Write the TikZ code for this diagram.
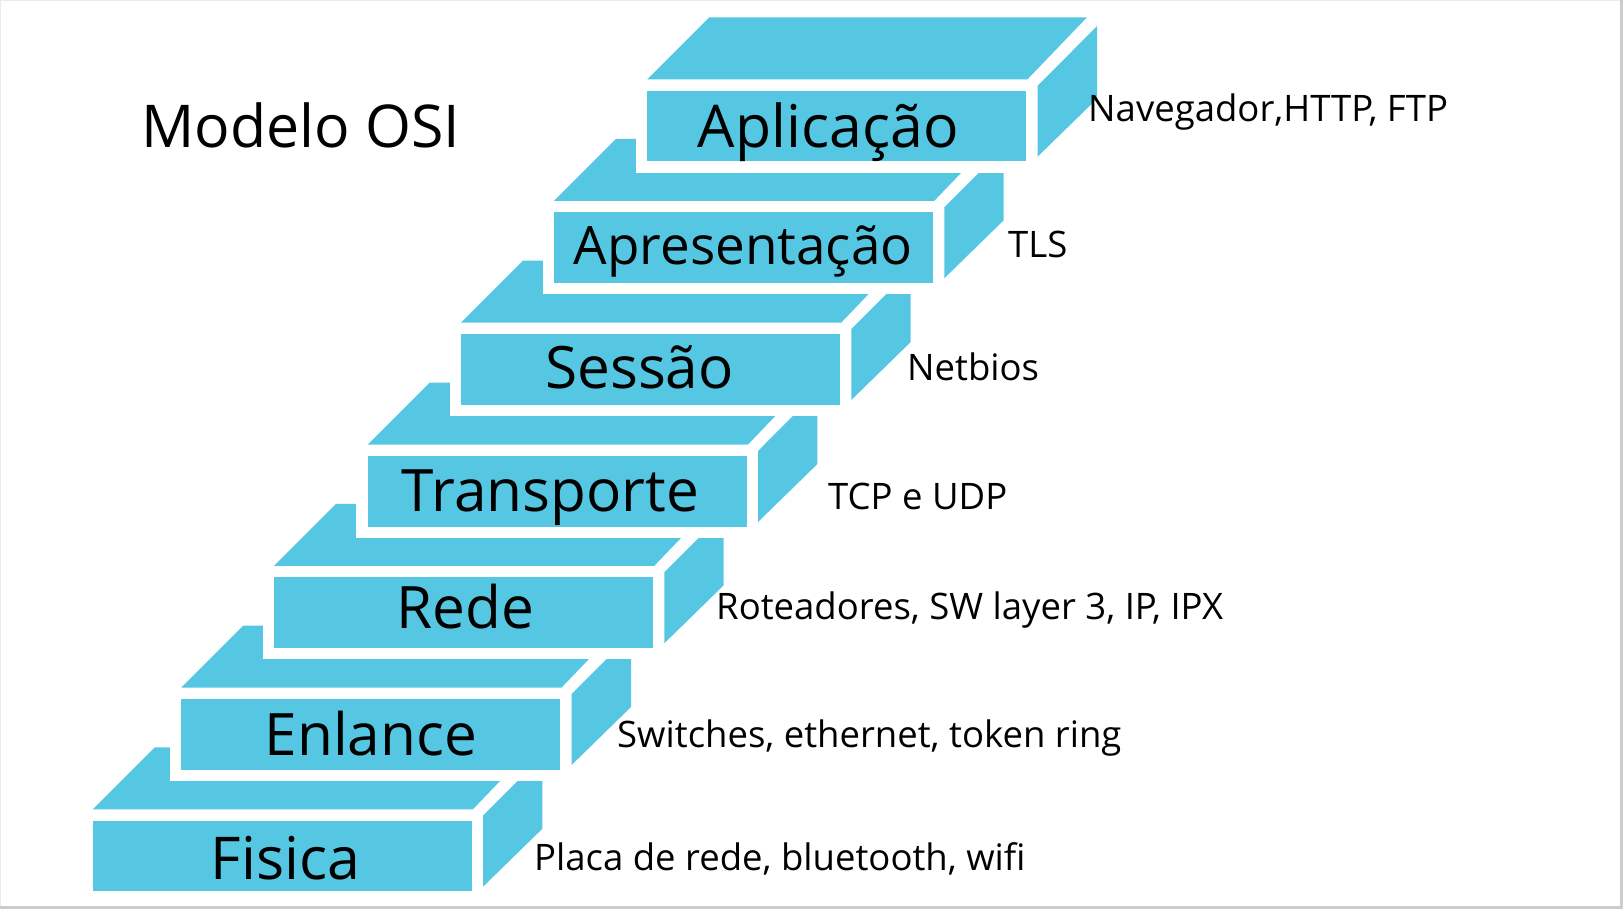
\documentclass[tikz,border=0pt]{standalone}
\usepackage{fontspec}
\setmainfont{Open Sans}
\definecolor{stepcyan}{RGB}{85,199,227}
\definecolor{framegray}{RGB}{204,204,204}
\definecolor{edgegray}{RGB}{235,235,235}

% One stair block: #1 = left of front face, #2 = top of front face (y grows downward)
\newcommand\osiblock[2]{%
  \pgfmathsetmacro\bL{#1}\pgfmathsetmacro\bT{#2}%
  \pgfmathsetmacro\bR{#1+379}\pgfmathsetmacro\bB{#2+70.7}%
  % white gap that separates the block from the one below it
  \fill[white] (\bL-11.4,\bT-11.4) rectangle (\bR+11.4,\bB+11.4);
  % front face
  \fill[stepcyan] (\bL,\bT) rectangle (\bR,\bB);
  % top face
  \fill[stepcyan] (\bL,\bT-11.4) -- (\bR+1.2,\bT-11.4) -- (\bR+60.7,\bT-73.4)
        -- (\bL+62,\bT-73.4) -- cycle;
  % side face
  \fill[stepcyan] (\bR+11.3,\bT-5) -- (\bR+70.7,\bT-64.5) -- (\bR+70.7,\bT+8)
        -- (\bR+11.3,\bT+66) -- cycle;
}

\tikzset{
  layername/.style={anchor=base, inner sep=0pt, text=black,
    font=\fontsize{58.5}{70}\selectfont},
  protocols/.style={anchor=base west, inner sep=0pt, text=black,
    font=\fontsize{36.5}{44}\selectfont},
}

\begin{document}
\begin{tikzpicture}[x=1pt,y=-1pt]
  \useasboundingbox (0,0) rectangle (1623,909);
  \fill[white] (0,0) rectangle (1623,909);
  % slide edges
  \draw[edgegray, line width=1] (0.5,906) -- (0.5,0.5) -- (1620,0.5);
  \fill[framegray] (1620,0) rectangle (1623,909);
  \fill[framegray] (0,906) rectangle (1623,909);

  % stairs, from the lowest step up
  \osiblock{92.7}{820.7}
  \osiblock{181.3}{699}
  \osiblock{274}{577.3}
  \osiblock{367.7}{456}
  \osiblock{461}{334}
  \osiblock{554}{212.3}
  \osiblock{647.3}{90.7}

  % title
  \node[layername, font=\fontsize{59}{71}\selectfont] (title) at (300.8,147.7) {Modelo OSI};

  % layer names
  \node[layername, font=\fontsize{59}{71}\selectfont] (l7) at (828.3,147.7) {Aplicação};
  \node[layername, font=\fontsize{53}{64}\selectfont] (l6) at (743.2,265) {Apresentação};
  \node[layername] (l5) at (639.5,388.3) {Sessão};
  \node[layername] (l4) at (550.5,511.7) {Transporte};
  \node[layername] (l3) at (465.5,628) {Rede};
  \node[layername] (l2) at (370.8,755.7) {Enlance};
  \node[layername, font=\fontsize{59}{71}\selectfont] (l1) at (285.5,879) {Fisica};

  % examples for each layer
  \node[protocols] (p7) at (1088,121.7) {Navegador,HTTP, FTP};
  \node[protocols] (p6) at (1008,257.7) {TLS};
  \node[protocols] (p5) at (907,380.9) {Netbios};
  \node[protocols] (p4) at (828,509.2) {TCP e UDP};
  \node[protocols] (p3) at (716,619.3) {Roteadores, SW layer 3, IP, IPX};
  \node[protocols] (p2) at (617,747.3) {Switches, ethernet, token ring};
  \node[protocols] (p1) at (534,870) {Placa de rede, bluetooth, wifi};
\end{tikzpicture}
\end{document}
